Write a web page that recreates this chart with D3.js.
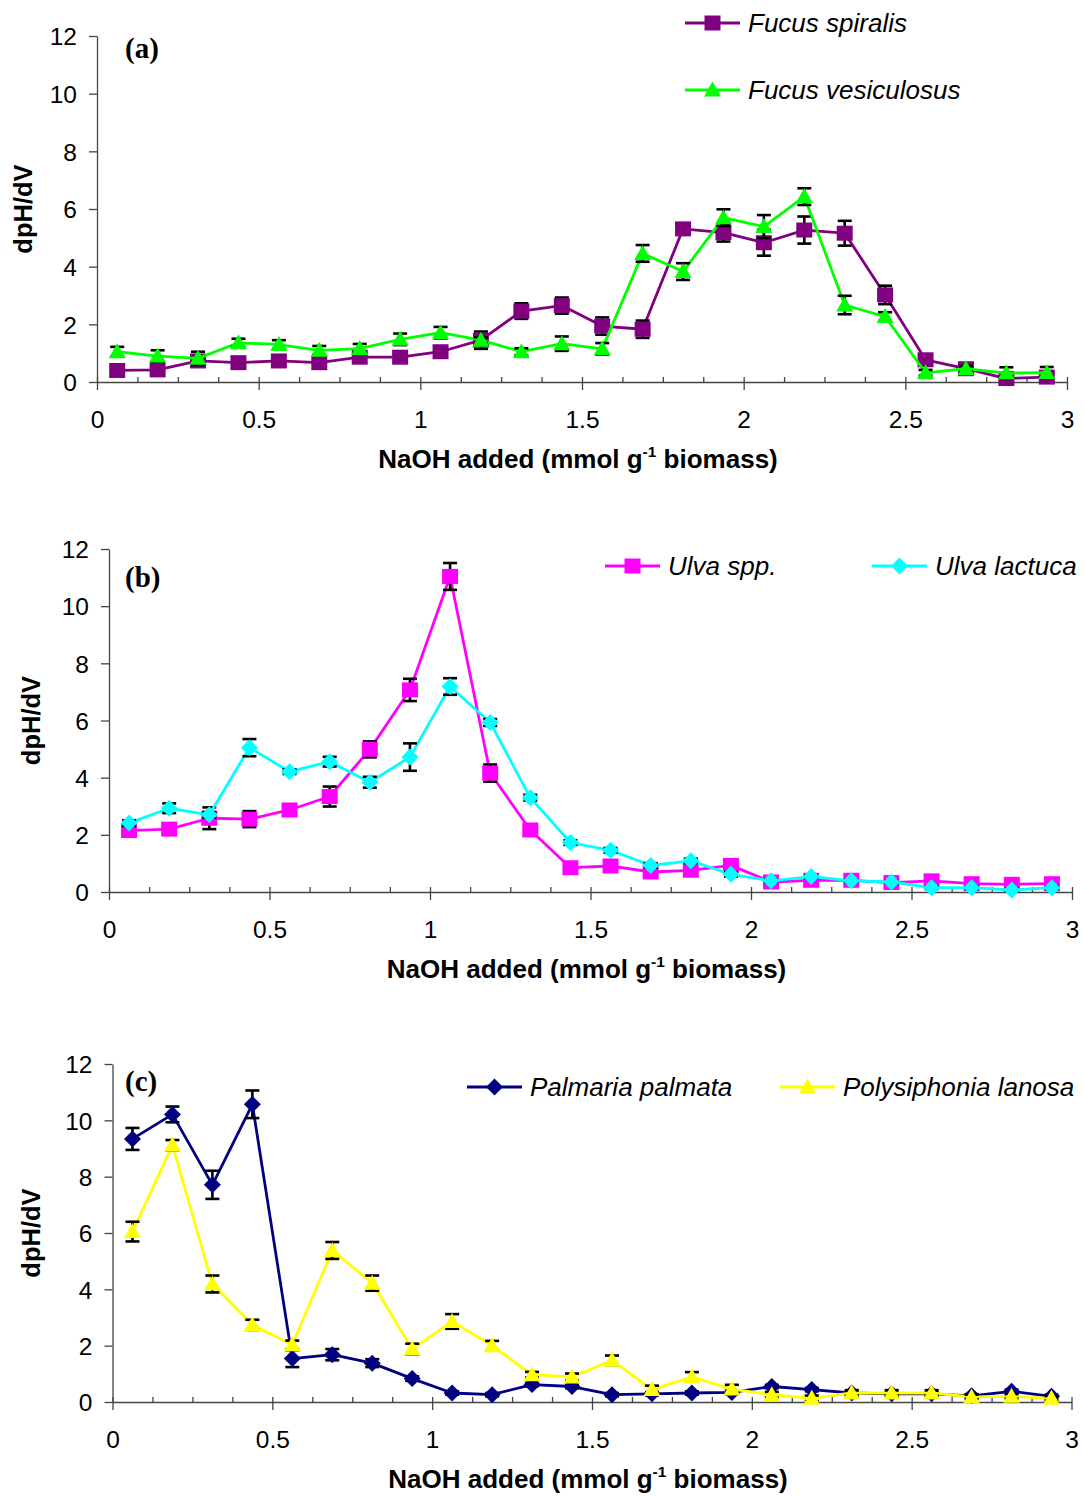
<!DOCTYPE html>
<html>
<head>
<meta charset="utf-8">
<script src="https://cdn.jsdelivr.net/npm/d3@7"></script>
<style>
  html, body { margin: 0; padding: 0; background: #fff; }
  svg { display: block; }
</style>
</head>
<body>
<svg id="chart" width="1084" height="1498"></svg>
<script>
// NaOH added (mmol g-1 biomass) at each titration step
const naohAdded = [0.0625, 0.1875, 0.3125, 0.4375, 0.5625, 0.6875, 0.8125, 0.9375,
                   1.0625, 1.1875, 1.3125, 1.4375, 1.5625, 1.6875, 1.8125, 1.9375,
                   2.0625, 2.1875, 2.3125, 2.4375, 2.5625, 2.6875, 2.8125, 2.9375];

// (a) brown algae
const fucusSpiralis    = [0.40, 0.42, 0.73, 0.67, 0.73, 0.67, 0.86, 0.86, 1.05, 1.45, 2.46, 2.65,
                          1.94, 1.83, 5.31, 5.18, 4.83, 5.27, 5.16, 3.02, 0.77, 0.46, 0.12, 0.17];
const fucusSpiralisErr = [0.10, 0.10, 0.10, 0.10, 0.10, 0.10, 0.10, 0.10, 0.12, 0.30, 0.27, 0.28,
                          0.30, 0.30, 0.15, 0.31, 0.45, 0.47, 0.43, 0.32, 0.10, 0.10, 0.15, 0.15];
const fucusVesiculosus    = [1.05, 0.90, 0.82, 1.36, 1.30, 1.10, 1.16, 1.48, 1.71, 1.45, 1.05, 1.33,
                             1.15, 4.46, 3.83, 5.70, 5.39, 6.43, 2.67, 2.27, 0.32, 0.46, 0.31, 0.32];
const fucusVesiculosusErr = [0.17, 0.20, 0.23, 0.14, 0.15, 0.15, 0.16, 0.20, 0.20, 0.10, 0.12, 0.25,
                             0.20, 0.29, 0.29, 0.29, 0.40, 0.29, 0.32, 0.15, 0.10, 0.10, 0.20, 0.20];

// (b) green algae
const ulvaSpp    = [2.15, 2.20, 2.58, 2.55, 2.87, 3.34, 4.99, 7.07, 11.04, 4.16, 2.17, 0.85,
                    0.91, 0.70, 0.76, 0.93, 0.35, 0.41, 0.41, 0.33, 0.39, 0.29, 0.27, 0.29];
const ulvaSppErr = [0.10, 0.12, 0.38, 0.28, 0.10, 0.35, 0.28, 0.39, 0.47, 0.30, 0.10, 0.08,
                    0.08, 0.08, 0.08, 0.08, 0.05, 0.05, 0.05, 0.05, 0.05, 0.05, 0.05, 0.05];
const ulvaLactuca    = [2.41, 2.93, 2.70, 5.05, 4.21, 4.56, 3.84, 4.72, 7.19, 5.93, 3.30, 1.73,
                        1.46, 0.93, 1.09, 0.62, 0.39, 0.54, 0.39, 0.35, 0.15, 0.15, 0.07, 0.15];
const ulvaLactucaErr = [0.10, 0.17, 0.10, 0.30, 0.08, 0.17, 0.19, 0.48, 0.29, 0.12, 0.10, 0.08,
                        0.08, 0.08, 0.08, 0.08, 0.05, 0.05, 0.05, 0.05, 0.05, 0.05, 0.05, 0.05];

// (c) red algae
const palmariaPalmata    = [9.34, 10.21, 7.71, 10.57, 1.54, 1.68, 1.38, 0.83, 0.32, 0.26, 0.62, 0.55,
                            0.26, 0.29, 0.32, 0.34, 0.55, 0.44, 0.32, 0.29, 0.29, 0.22, 0.38, 0.20];
const palmariaPalmataErr = [0.39, 0.28, 0.50, 0.49, 0.30, 0.20, 0.14, 0.08, 0.06, 0.06, 0.06, 0.06,
                            0.06, 0.06, 0.06, 0.06, 0.06, 0.06, 0.06, 0.06, 0.06, 0.06, 0.06, 0.06];
const polysiphoniaLanosa    = [6.05, 9.12, 4.19, 2.74, 2.03, 5.38, 4.22, 1.88, 2.86, 2.00, 0.97, 0.89,
                               1.48, 0.44, 0.89, 0.46, 0.26, 0.13, 0.32, 0.32, 0.32, 0.18, 0.20, 0.13];
const polysiphoniaLanosaErr = [0.35, 0.18, 0.30, 0.18, 0.15, 0.30, 0.27, 0.19, 0.26, 0.17, 0.10, 0.12,
                               0.17, 0.14, 0.17, 0.15, 0.10, 0.10, 0.10, 0.10, 0.10, 0.08, 0.08, 0.08];

// axis ticks
const xTicks = [0, 0.5, 1, 1.5, 2, 2.5, 3];
const xTickLabels = ["0", "0.5", "1", "1.5", "2", "2.5", "3"];
const xMinorTicks = [0.125, 0.25, 0.375, 0.625, 0.75, 0.875, 1.125, 1.25, 1.375, 1.625, 1.75, 1.875,
                     2.125, 2.25, 2.375, 2.625, 2.75, 2.875];
const yTicks = [0, 2, 4, 6, 8, 10, 12];
const yTickLabels = ["0", "2", "4", "6", "8", "10", "12"];

const SANS = "'Liberation Sans', Arial, sans-serif";
const SERIF = "'Liberation Serif', 'Times New Roman', serif";

const panels = [
  {
    tag: "(a)", tagY: 58, xRange: [97, 1067], yRange: [382, 36],
    series: [
      { name: "Fucus spiralis", values: fucusSpiralis, errors: fucusSpiralisErr, color: "#800080", marker: "square" },
      { name: "Fucus vesiculosus", values: fucusVesiculosus, errors: fucusVesiculosusErr, color: "#00ff00", marker: "triangle" }
    ],
    legend: [{ x: 685, y: 23 }, { x: 685, y: 90 }]
  },
  {
    tag: "(b)", tagY: 587, xRange: [109, 1072], yRange: [892, 549],
    series: [
      { name: "Ulva spp.", values: ulvaSpp, errors: ulvaSppErr, color: "#ff00ff", marker: "square" },
      { name: "Ulva lactuca", values: ulvaLactuca, errors: ulvaLactucaErr, color: "#00ffff", marker: "diamond" }
    ],
    legend: [{ x: 605, y: 566 }, { x: 872, y: 566 }]
  },
  {
    tag: "(c)", tagY: 1091, xRange: [112.5, 1071.5], yRange: [1402, 1064],
    series: [
      { name: "Palmaria palmata", values: palmariaPalmata, errors: palmariaPalmataErr, color: "#000080", marker: "diamond" },
      { name: "Polysiphonia lanosa", values: polysiphoniaLanosa, errors: polysiphoniaLanosaErr, color: "#ffff00", marker: "triangle" }
    ],
    legend: [{ x: 467, y: 1087 }, { x: 780, y: 1087 }]
  }
];

const svg = d3.select("#chart");

// marker outlines centred on the origin
function markerPath(kind) {
  if (kind === "square") return "M-8,-7.5H8V7.5H-8Z";
  if (kind === "triangle") return "M0,-8.5L8.5,6.5H-8.5Z";
  return "M0,-8.5L8.5,0L0,8.5L-8.5,0Z"; // diamond
}

function drawPanel(p) {
  const g = svg.append("g");
  const x = d3.scaleLinear().domain([0, 3]).range(p.xRange);
  const y = d3.scaleLinear().domain([0, 12]).range(p.yRange);
  const axisColor = "#444";

  // minor ticks along x, pointing inward
  const minor = g.append("g")
    .attr("transform", `translate(0,${p.yRange[0]})`)
    .call(d3.axisBottom(x).tickValues(xMinorTicks.concat(xTicks)).tickSize(-5).tickSizeOuter(0).tickFormat(""));
  minor.select(".domain").remove();
  minor.selectAll("line").attr("stroke", axisColor).attr("stroke-width", 1.3);

  // major x axis
  const xa = g.append("g")
    .attr("transform", `translate(0,${p.yRange[0]})`)
    .call(d3.axisBottom(x).tickValues(xTicks).tickSize(8).tickSizeOuter(0)
      .tickFormat((d, i) => xTickLabels[i]));
  xa.select(".domain").attr("stroke", axisColor).attr("stroke-width", 1.3);
  xa.selectAll("line").attr("stroke", axisColor).attr("stroke-width", 1.3);
  xa.selectAll("text").attr("y", 46).attr("dy", 0)
    .attr("font-family", SANS).attr("font-size", 24.5).attr("fill", "#000");

  // y axis
  const ya = g.append("g")
    .attr("transform", `translate(${p.xRange[0]},0)`)
    .call(d3.axisLeft(y).tickValues(yTicks).tickSize(8).tickSizeOuter(0)
      .tickFormat((d, i) => yTickLabels[i]));
  ya.select(".domain").attr("stroke", axisColor).attr("stroke-width", 1.3);
  ya.selectAll("line").attr("stroke", axisColor).attr("stroke-width", 1.3);
  ya.selectAll("text").attr("x", -20).attr("dy", "0.36em")
    .attr("font-family", SANS).attr("font-size", 24.5).attr("fill", "#000");
  g.selectAll(".tick text").attr("font-family", SANS);

  // axis titles
  const xMid = (p.xRange[0] + p.xRange[1]) / 2 - 4;
  const xt = g.append("text")
    .attr("x", xMid).attr("y", p.yRange[0] + 86)
    .attr("text-anchor", "middle")
    .attr("font-family", SANS).attr("font-weight", "bold").attr("font-size", 26).attr("fill", "#000");
  xt.append("tspan").text("NaOH added (mmol g");
  xt.append("tspan").text("-1").attr("font-size", 15.5).attr("dy", -11);
  xt.append("tspan").text(" biomass)").attr("dy", 11);

  const yMid = (p.yRange[0] + p.yRange[1]) / 2;
  const yTitleX = p.tag === "(a)" ? 32 : 40;
  g.append("text")
    .attr("transform", `translate(${yTitleX},${yMid}) rotate(-90)`)
    .attr("text-anchor", "middle")
    .attr("font-family", SANS).attr("font-weight", "bold").attr("font-size", 25.5).attr("fill", "#000")
    .text("dpH/dV");

  // panel tag
  g.append("text")
    .attr("x", 125).attr("y", p.tagY)
    .attr("font-family", SERIF).attr("font-weight", "bold").attr("font-size", 29).attr("fill", "#000")
    .text(p.tag);

  // series: line, error bars, markers
  p.series.forEach(s => {
    const pts = naohAdded.map((v, i) => ({ x: v, y: s.values[i], e: s.errors[i] }));
    const sg = g.append("g");

    sg.append("path")
      .datum(pts)
      .attr("fill", "none")
      .attr("stroke", s.color)
      .attr("stroke-width", 2.8)
      .attr("stroke-linejoin", "round")
      .attr("d", d3.line().x(d => x(d.x)).y(d => y(d.y)));

    const eb = sg.append("g").attr("stroke", "#000").attr("stroke-width", 2.6);
    eb.selectAll("line.v").data(pts).join("line").attr("class", "v")
      .attr("x1", d => x(d.x)).attr("x2", d => x(d.x))
      .attr("y1", d => y(d.y + d.e)).attr("y2", d => y(d.y - d.e));
    eb.selectAll("line.t").data(pts).join("line").attr("class", "t")
      .attr("x1", d => x(d.x) - 7).attr("x2", d => x(d.x) + 7)
      .attr("y1", d => y(d.y + d.e)).attr("y2", d => y(d.y + d.e));
    eb.selectAll("line.b").data(pts).join("line").attr("class", "b")
      .attr("x1", d => x(d.x) - 7).attr("x2", d => x(d.x) + 7)
      .attr("y1", d => y(d.y - d.e)).attr("y2", d => y(d.y - d.e));

    sg.selectAll("path.mk").data(pts).join("path").attr("class", "mk")
      .attr("transform", d => `translate(${x(d.x)},${y(d.y)})`)
      .attr("d", markerPath(s.marker))
      .attr("fill", s.color);
  });

  // legend
  p.series.forEach((s, i) => {
    const L = p.legend[i];
    const lg = g.append("g");
    lg.append("line")
      .attr("x1", L.x).attr("x2", L.x + 55).attr("y1", L.y).attr("y2", L.y)
      .attr("stroke", s.color).attr("stroke-width", 2.8);
    lg.append("path")
      .attr("transform", `translate(${L.x + 27.5},${L.y})`)
      .attr("d", markerPath(s.marker)).attr("fill", s.color);
    lg.append("text")
      .attr("x", L.x + 63).attr("y", L.y + 8.5)
      .attr("font-family", SANS).attr("font-style", "italic").attr("font-size", 26).attr("fill", "#000")
      .text(s.name);
  });
}

panels.forEach(drawPanel);
</script>
</body>
</html>
